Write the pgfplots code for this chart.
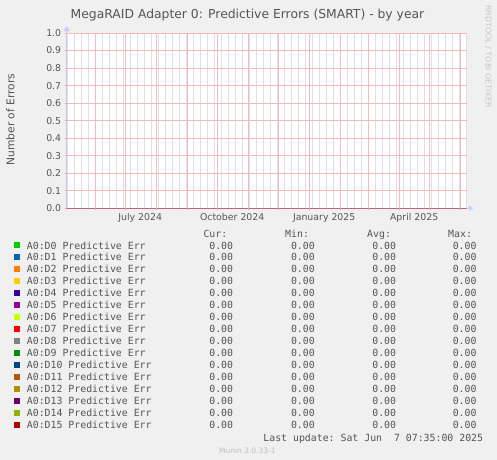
\documentclass[border=0pt]{standalone}
\usepackage{pgfplots}
\pgfplotsset{compat=1.18}
\usetikzlibrary{arrows.meta}
\usepackage{fontspec}
\setmainfont{DejaVu Sans}
\newfontfamily\monofont{DejaVu Sans Mono}
\definecolor{txt}{HTML}{555555}
\definecolor{bg}{HTML}{F0F0F0}
\definecolor{mgrid}{RGB}{248,185,185}
\definecolor{mtick}{RGB}{240,140,140}
\definecolor{mingrid}{RGB}{224,224,224}
\definecolor{axisc}{RGB}{200,200,255}
\definecolor{c0}{HTML}{00CC00}
\definecolor{c1}{HTML}{0066B3}
\definecolor{c2}{HTML}{FF8000}
\definecolor{c3}{HTML}{FFCC00}
\definecolor{c4}{HTML}{330099}
\definecolor{c5}{HTML}{990099}
\definecolor{c6}{HTML}{CCFF00}
\definecolor{c7}{HTML}{FF0000}
\definecolor{c8}{HTML}{808080}
\definecolor{c9}{HTML}{008F00}
\definecolor{c10}{HTML}{00487D}
\definecolor{c11}{HTML}{B35A00}
\definecolor{c12}{HTML}{B38F00}
\definecolor{c13}{HTML}{6B006B}
\definecolor{c14}{HTML}{8FB300}
\definecolor{c15}{HTML}{B30000}
\begin{document}
\begin{tikzpicture}
\fill[bg] (0,0) rectangle (497bp,-460bp);
\begin{axis}[
  at={(66.7bp,-208.3bp)}, anchor=south west,
  scale only axis, width=400bp, height=175.3bp,
  xmin=0, xmax=400, ymin=0, ymax=1,
  axis background/.style={fill=white},
  axis on top,
  axis lines=left,
  x axis line style={draw=axisc, draw opacity=0.5, line width=1.2bp, shorten >=-7bp, -{Triangle[length=5bp,width=6bp,fill=axisc]}},
  y axis line style={draw=axisc, line width=1bp, shorten >=-7bp, -{Triangle[length=5bp,width=6bp,fill=axisc]}},
  xtick={28.5,58.5,89.5,120.5,150.5,181.5,211.5,242.5,273.5,301.5,332.5,362.5,393.5},
  xticklabels={},
  minor xtick={1,8,...,400},
  extra x ticks={73.5,165.5,257.5,347.5},
  extra x tick labels={July 2024,October 2024,January 2025,April 2025},
  extra x tick style={grid=none, major tick length=0pt, xticklabel style={yshift=-1.5bp}},
  ytick={0.1,0.2,0.3,0.4,0.5,0.6,0.7,0.8,0.9,1.0},
  yticklabel={\pgfmathprintnumber[fixed,fixed zerofill,precision=1,assume math mode=true]{\tick}},
  extra y ticks={0},
  extra y tick labels={0.0},
  extra y tick style={grid=none},
  xmajorgrids, ymajorgrids, xminorgrids,
  major grid style={draw=mgrid, line width=0.7bp, solid},
  minor grid style={draw=mingrid, line width=0.7bp, solid},
  tick align=outside,
  major tick length=2bp, minor tick length=0pt,
  tick style={draw=mtick, line width=0.7bp},
  ticklabel style={font=\fontsize{9.4}{11}\selectfont, text=txt},
  /pgf/number format/assume math mode=true,
  every axis plot/.append style={line width=1.2bp, mark=none},
]
\addplot[c0] coordinates {(0,0) (400,0)};
\addplot[c1] coordinates {(0,0) (400,0)};
\addplot[c2] coordinates {(0,0) (400,0)};
\addplot[c3] coordinates {(0,0) (400,0)};
\addplot[c4] coordinates {(0,0) (400,0)};
\addplot[c5] coordinates {(0,0) (400,0)};
\addplot[c6] coordinates {(0,0) (400,0)};
\addplot[c7] coordinates {(0,0) (400,0)};
\addplot[c8] coordinates {(0,0) (400,0)};
\addplot[c9] coordinates {(0,0) (400,0)};
\addplot[c10] coordinates {(0,0) (400,0)};
\addplot[c11] coordinates {(0,0) (400,0)};
\addplot[c12] coordinates {(0,0) (400,0)};
\addplot[c13] coordinates {(0,0) (400,0)};
\addplot[c14] coordinates {(0,0) (400,0)};
\addplot[c15] coordinates {(0,0) (400,0)};
\end{axis}
% title and side texts
\node[anchor=base, text=txt, font=\fontsize{12.4}{14}\selectfont, inner sep=0] at (247.5bp,-18.3bp) {MegaRAID Adapter 0: Predictive Errors (SMART) - by year};
\node[rotate=90, text=txt, font=\fontsize{10.7}{12}\selectfont, inner sep=0] at (10.3bp,-119.7bp) {Number of Errors};
\node[rotate=-90, text={rgb,255:red,200;green,200;blue,200}, font=\fontsize{8}{9}\selectfont, inner sep=0] at (488.3bp,-56.5bp) {RRDTOOL / TOBI OETIKER};
% legend
\begin{scope}[every node/.style={inner sep=0, text=txt, font=\monofont\fontsize{9.9}{11}\selectfont}]
\node[anchor=base west] at (203.3bp,-237bp) {Cur:};
\node[anchor=base west] at (285bp,-237bp) {Min:};
\node[anchor=base west] at (367bp,-237bp) {Avg:};
\node[anchor=base west] at (448bp,-237bp) {Max:};
\foreach \i in {0,...,15}{
  \pgfmathsetmacro{\yb}{-249-11.97*\i}
  \fill[c\i] (14bp,\yb bp+0.7bp) rectangle (20bp,\yb bp+6.7bp);
  \node[anchor=base west] at (26.7bp,\yb bp) {A0:D\i\ Predictive Err};
  \node[anchor=base east] at (233.3bp,\yb bp) {0.00};
  \node[anchor=base east] at (315bp,\yb bp) {0.00};
  \node[anchor=base east] at (396.3bp,\yb bp) {0.00};
  \node[anchor=base east] at (476.7bp,\yb bp) {0.00};
}
\node[anchor=base east] at (483.3bp,-441bp) {Last update:\ Sat Jun\ \ 7 07:35:00 2025};
\end{scope}
\node[anchor=base west, inner sep=0, text={rgb,255:red,190;green,190;blue,190}, font=\fontsize{7.5}{9}\selectfont] at (219bp,-453bp) {Munin 2.0.33-1};
\end{tikzpicture}
\end{document}
